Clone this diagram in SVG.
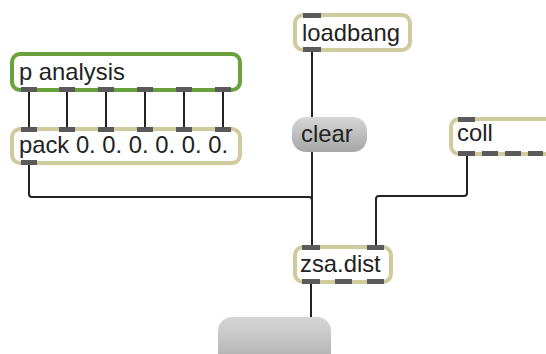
<svg xmlns="http://www.w3.org/2000/svg" width="546" height="354" viewBox="0 0 546 354">
  <defs>
    <linearGradient id="msgFill" x1="0" y1="0" x2="0" y2="1">
      <stop offset="0" stop-color="#d6d6d6"/>
      <stop offset="1" stop-color="#a6a6a6"/>
    </linearGradient>
    <linearGradient id="btnFill" x1="0" y1="0" x2="0" y2="1">
      <stop offset="0" stop-color="#d6d6d6"/>
      <stop offset="0.3" stop-color="#cbcbcb"/>
      <stop offset="0.6" stop-color="#bdbdbd"/>
      <stop offset="1" stop-color="#aaaaaa"/>
    </linearGradient>
    <style>
      .obj { fill: #ffffff; stroke: #cfcb9f; stroke-width: 4; }
      .sub { fill: #ffffff; stroke: #69a23c; stroke-width: 4; }
      .port { fill: #5a5a5a; }
      .lbl { font-family: "Liberation Sans", Arial, sans-serif; font-size: 23.8px; fill: #222222; }
      .cord { fill: none; stroke: #222222; stroke-width: 2; }
    </style>
  </defs>

  <!-- patch cords -->
  <g id="connectors">
    <path class="cord" d="M29 92 V127 M67 92 V127 M106 92 V127 M145 92 V127 M184 92 V127 M223 92 V127"/>
    <path class="cord" d="M312 52 V117"/>
    <path class="cord" d="M312 152 V245"/>
    <path class="cord" d="M29 165 V194 A3 3 0 0 0 32 197 H309 A3 3 0 0 1 312 200"/>
    <path class="cord" d="M467 156 V193 A3 3 0 0 1 464 196 H379 A3 3 0 0 0 376 199 V245"/>
    <path class="cord" d="M311 284 V317"/>
  </g>

  <!-- p analysis subpatcher -->
  <g id="p-analysis">
    <rect class="sub" x="12" y="54" width="228" height="36" rx="8"/>
    <rect class="port" x="21" y="87" width="16" height="5"/>
    <rect class="port" x="59" y="87" width="16" height="5"/>
    <rect class="port" x="98" y="87" width="16" height="5"/>
    <rect class="port" x="137" y="87" width="16" height="5"/>
    <rect class="port" x="176" y="87" width="16" height="5"/>
    <rect class="port" x="215" y="87" width="16" height="5"/>
    <text class="lbl" x="19" y="80">p analysis</text>
  </g>

  <!-- pack -->
  <g id="pack">
    <rect class="obj" x="12" y="129" width="228" height="34" rx="8"/>
    <rect class="port" x="21" y="127" width="16" height="5"/>
    <rect class="port" x="59" y="127" width="16" height="5"/>
    <rect class="port" x="98" y="127" width="16" height="5"/>
    <rect class="port" x="137" y="127" width="16" height="5"/>
    <rect class="port" x="176" y="127" width="16" height="5"/>
    <rect class="port" x="215" y="127" width="16" height="5"/>
    <rect class="port" x="21" y="160" width="16" height="5"/>
    <text class="lbl" x="19" y="153">pack 0. 0. 0. 0. 0. 0.</text>
  </g>

  <!-- loadbang -->
  <g id="loadbang">
    <rect class="obj" x="295" y="15" width="115" height="35" rx="8"/>
    <rect class="port" x="303" y="13" width="18" height="5"/>
    <rect class="port" x="303" y="47" width="18" height="5"/>
    <text class="lbl" x="302" y="41">loadbang</text>
  </g>

  <!-- clear message -->
  <g id="clear">
    <rect x="292" y="117" width="75" height="35" rx="14" fill="url(#msgFill)"/>
    <text class="lbl" x="301" y="142">clear</text>
  </g>

  <!-- coll -->
  <g id="coll">
    <rect class="obj" x="451" y="119" width="110" height="35" rx="8"/>
    <rect class="port" x="458" y="117" width="17" height="5"/>
    <rect class="port" x="458" y="151" width="17" height="5"/>
    <rect class="port" x="482" y="151" width="16" height="5"/>
    <rect class="port" x="505" y="151" width="16" height="5"/>
    <rect class="port" x="528" y="151" width="15" height="5"/>
    <text class="lbl" x="457" y="141">coll</text>
  </g>

  <!-- zsa.dist -->
  <g id="zsa-dist">
    <rect class="obj" x="295" y="247" width="96" height="35" rx="8"/>
    <rect class="port" x="302" y="245" width="18" height="5"/>
    <rect class="port" x="367" y="245" width="17" height="5"/>
    <rect class="port" x="302" y="279" width="18" height="5"/>
    <rect class="port" x="335" y="279" width="17" height="5"/>
    <rect class="port" x="367" y="279" width="17" height="5"/>
    <text class="lbl" x="300" y="272">zsa.dist</text>
  </g>

  <!-- output message box -->
  <g id="output">
    <rect x="218" y="317" width="113" height="50" rx="14" fill="url(#btnFill)"/>
  </g>
</svg>
